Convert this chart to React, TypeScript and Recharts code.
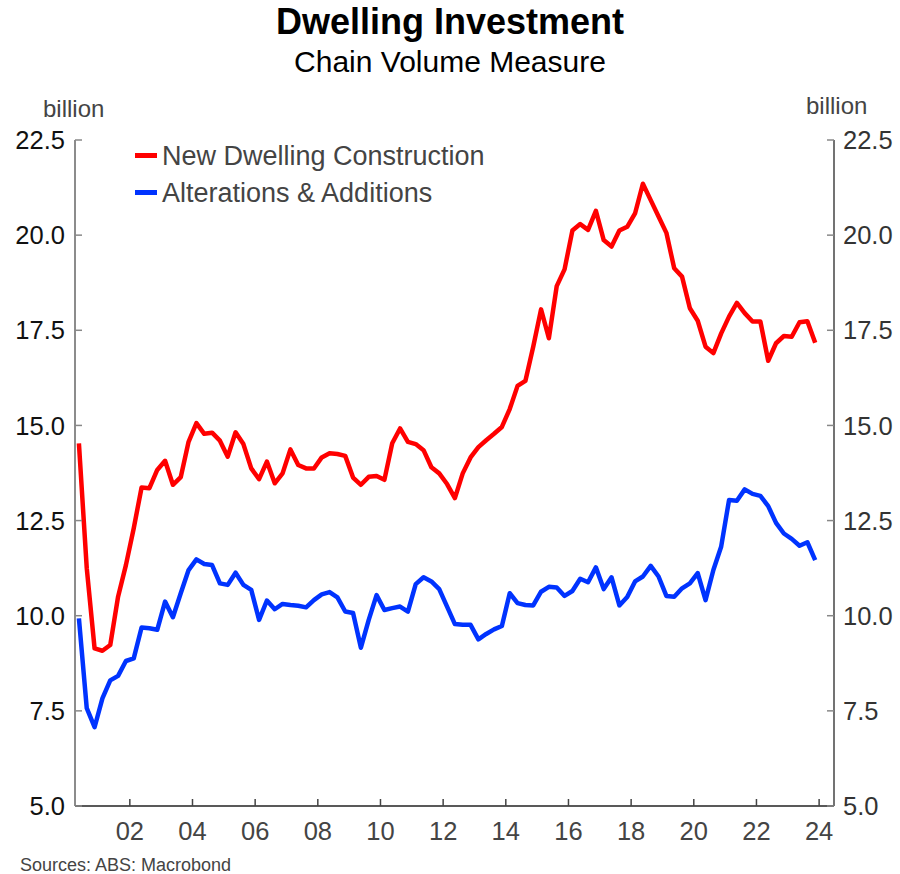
import { LineChart, Line, XAxis, YAxis, Legend } from "recharts"

// quarterly, starting 2000 Q2 (billion, chain volume)
const startYear = 2000
const startQuarter = 2

const newDwelling = [
  14.53, 11.25, 9.14, 9.08, 9.23, 10.5, 11.33, 12.3, 13.37, 13.35,
  13.83, 14.07, 13.44, 13.64, 14.57, 15.06, 14.78, 14.81, 14.6, 14.18,
  14.82, 14.51, 13.87, 13.59, 14.05, 13.48, 13.74, 14.37, 13.96, 13.87,
  13.87, 14.16, 14.27, 14.25, 14.2, 13.63, 13.44, 13.65, 13.67, 13.57,
  14.53, 14.92, 14.57, 14.51, 14.35, 13.9, 13.74, 13.46, 13.09, 13.74,
  14.16, 14.43, 14.61, 14.78, 14.96, 15.43, 16.04, 16.17, 17.07, 18.05,
  17.29, 18.66, 19.1, 20.12, 20.29, 20.14, 20.64, 19.87, 19.7, 20.12,
  20.22, 20.57, 21.35, 20.92, 20.49, 20.06, 19.13, 18.91, 18.08, 17.75,
  17.07, 16.9, 17.42, 17.86, 18.22, 17.95, 17.73, 17.73, 16.7, 17.16,
  17.35, 17.33, 17.71, 17.74, 17.17,
]

const alterations = [
  9.93, 7.57, 7.07, 7.83, 8.3, 8.42, 8.81, 8.88, 9.69, 9.67,
  9.63, 10.37, 9.96, 10.59, 11.2, 11.48, 11.36, 11.33, 10.85, 10.81,
  11.13, 10.81, 10.68, 9.89, 10.4, 10.17, 10.31, 10.28, 10.26, 10.22,
  10.41, 10.56, 10.62, 10.48, 10.11, 10.07, 9.16, 9.89, 10.54, 10.15,
  10.2, 10.24, 10.11, 10.83, 11.01, 10.9, 10.7, 10.24, 9.78, 9.76,
  9.76, 9.38, 9.52, 9.64, 9.73, 10.59, 10.33, 10.28, 10.27, 10.63,
  10.76, 10.74, 10.52, 10.65, 10.97, 10.88, 11.27, 10.7, 11.01, 10.27,
  10.49, 10.9, 11.03, 11.31, 11.03, 10.52, 10.5, 10.72, 10.85, 11.12,
  10.41, 11.2, 11.82, 13.04, 13.02, 13.32, 13.2, 13.15, 12.88, 12.44,
  12.16, 12.02, 11.84, 11.93, 11.46,
]

const yearTicks = [2002, 2004, 2006, 2008, 2010, 2012, 2014, 2016, 2018, 2020, 2022, 2024]
const valueTicks = [5, 7.5, 10, 12.5, 15, 17.5, 20, 22.5]

const data = newDwelling.map((v, i) => {
  const q = startQuarter - 1 + i
  const year = startYear + Math.floor(q / 4)
  const quarter = (q % 4) + 1
  return {
    quarter: `${year}Q${quarter}`,
    t: year + (quarter - 0.5) / 4,
    newDwelling: v,
    alterations: alterations[i],
  }
})

const FONT = "'Liberation Sans', Arial, sans-serif"
const RED = "#ff0000"
const BLUE = "#0033ff"

const LeftTick = ({ x, y, payload }: any) => (
  <g>
    <line x1={x} x2={x + 7} y1={y} y2={y} stroke="#888" strokeWidth={1.5} />
    <text x={x - 10} y={y} dy="0.36em" textAnchor="end" fontSize={25.5} fill="#111" fontFamily={FONT}>
      {payload.value.toFixed(1)}
    </text>
  </g>
)

const RightTick = ({ x, y, payload }: any) => (
  <g>
    <line x1={x} x2={x - 7} y1={y} y2={y} stroke="#888" strokeWidth={1.5} />
    <text x={x + 9} y={y} dy="0.36em" textAnchor="start" fontSize={25.5} fill="#333" fontFamily={FONT}>
      {payload.value.toFixed(1)}
    </text>
  </g>
)

const BottomTick = ({ x, y, payload }: any) => (
  <g>
    <line x1={x} x2={x} y1={y} y2={y - 7} stroke="#444" strokeWidth={1.5} />
    <text x={x} y={y + 34} textAnchor="middle" fontSize={25.5} fill="#444" fontFamily={FONT}>
      {String(payload.value % 100).padStart(2, "0")}
    </text>
  </g>
)

const renderLegend = () => (
  <div style={{ fontFamily: FONT, fontSize: 27, color: "#444", lineHeight: "36px" }}>
    {[
      { name: "New Dwelling Construction", color: RED },
      { name: "Alterations & Additions", color: BLUE },
    ].map((item) => (
      <div key={item.name} style={{ display: "flex", alignItems: "center", height: 37 }}>
        <span style={{ display: "inline-block", width: 22, height: 5, background: item.color, marginRight: 5 }} />
        <span>{item.name}</span>
      </div>
    ))}
  </div>
)

export default function App() {
  return (
    <div style={{ position: "absolute", left: 0, top: 0, width: 900, height: 874, background: "#fff", fontFamily: FONT }}>
      <div style={{ position: "absolute", left: 0, width: 900, top: 1, textAlign: "center", fontSize: 36, fontWeight: "bold", color: "#000" }}>
        Dwelling Investment
      </div>
      <div style={{ position: "absolute", left: 0, width: 900, top: 45, textAlign: "center", fontSize: 30, color: "#000" }}>
        Chain Volume Measure
      </div>
      <div style={{ position: "absolute", left: 43, top: 95, fontSize: 24, color: "#444" }}>billion</div>
      <div style={{ position: "absolute", left: 806, top: 92, fontSize: 24, color: "#444" }}>billion</div>
      <div style={{ position: "absolute", left: 20, top: 855, fontSize: 18, color: "#444" }}>Sources: ABS: Macrobond</div>
      <LineChart
        width={900}
        height={874}
        data={data}
        margin={{ top: 140, right: 0, bottom: 0, left: 0 }}
        style={{ position: "absolute", left: 0, top: 0 }}
      >
        <XAxis
          dataKey="t"
          type="number"
          domain={[2000.25, 2024.475]}
          ticks={yearTicks}
          allowDataOverflow
          height={68}
          tickSize={0}
          tickMargin={0}
          tickLine={false}
          axisLine={{ stroke: "#222", strokeWidth: 1.5 }}
          tick={<BottomTick />}
          interval={0}
        />
        <YAxis
          yAxisId="left"
          orientation="left"
          domain={[5, 22.5]}
          ticks={valueTicks}
          allowDataOverflow
          width={75}
          tickSize={0}
          tickMargin={0}
          tickLine={false}
          axisLine={{ stroke: "#666", strokeWidth: 1.5 }}
          tick={<LeftTick />}
          interval={0}
        />
        <YAxis
          yAxisId="right"
          orientation="right"
          domain={[5, 22.5]}
          ticks={valueTicks}
          allowDataOverflow
          width={66}
          tickSize={0}
          tickMargin={0}
          tickLine={false}
          axisLine={{ stroke: "#444", strokeWidth: 1.5 }}
          tick={<RightTick />}
          interval={0}
        />
        <Legend
          content={renderLegend}
          layout="horizontal"
          verticalAlign="middle"
          align="center"
          wrapperStyle={{ left: 135, top: 137, width: 420 }}
        />
        <Line
          yAxisId="left"
          type="linear"
          dataKey="newDwelling"
          name="New Dwelling Construction"
          stroke={RED}
          strokeWidth={4.5}
          dot={false}
          strokeLinejoin="round"
          isAnimationActive={false}
        />
        <Line
          yAxisId="left"
          type="linear"
          dataKey="alterations"
          name="Alterations & Additions"
          stroke={BLUE}
          strokeWidth={4.5}
          dot={false}
          strokeLinejoin="round"
          isAnimationActive={false}
        />
        {/* same series bound to the right axis so its ticks get drawn */}
        <Line
          yAxisId="right"
          type="linear"
          dataKey="newDwelling"
          stroke="none"
          strokeWidth={0}
          dot={false}
          activeDot={false}
          legendType="none"
          isAnimationActive={false}
        />
      </LineChart>
    </div>
  )
}
